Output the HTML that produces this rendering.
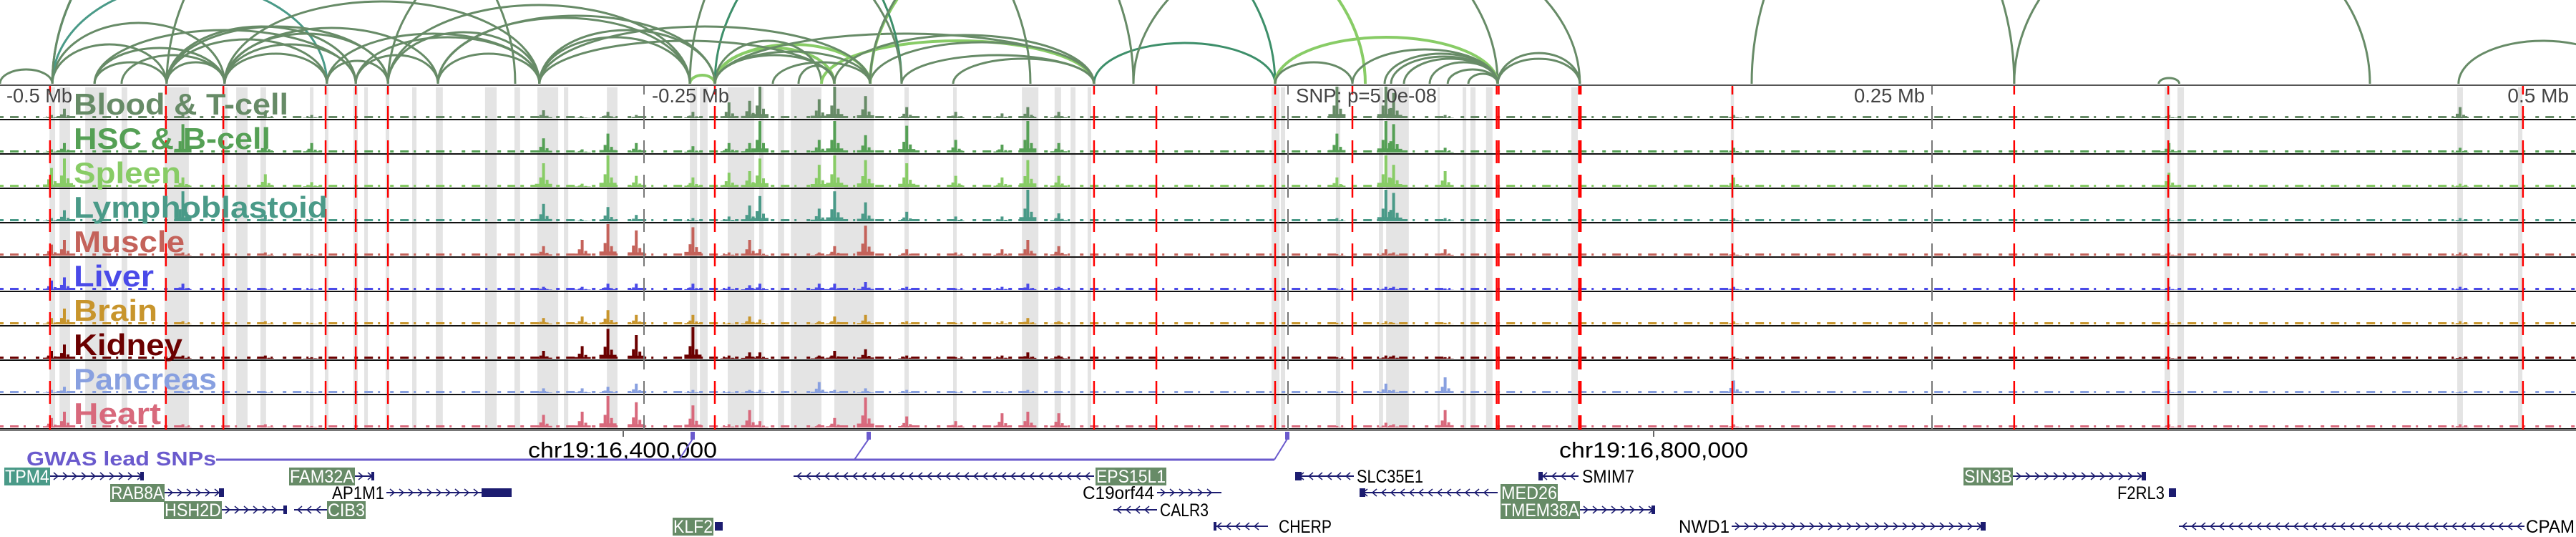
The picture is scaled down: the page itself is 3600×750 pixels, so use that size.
<!DOCTYPE html>
<html><head><meta charset="utf-8">
<style>
html,body{margin:0;padding:0;background:#fff;}
svg{display:block;font-family:"Liberation Sans","DejaVu Sans",sans-serif;}
</style></head>
<body>
<svg id="chart" width="3600" height="750" viewBox="0 0 3600 750" xmlns="http://www.w3.org/2000/svg">
  <g id="bands"></g>
  <g id="arcs"></g>
  <g id="tracks"></g>
  <g id="vlines"></g>
  <g id="labels"></g>
  <g id="axis"></g>
  <g id="gwas"></g>
  <g id="genes"></g>
</svg>
<script>
// ---- data (kb relative to lead SNP) ----
const tissues = ["Blood & T-cell","HSC & B-cell","Spleen","Lymphoblastoid","Muscle","Liver","Brain","Kidney","Pancreas","Heart"];
const tissueColors = ["#678b67","#55a055","#88cc66","#4a9a88","#c4625a","#4a4ae8","#c8952c","#6b0000","#88a0e0","#d8697c"];
const peakKb = [-480,-475,-429,-397,-379,-289,-274,-264,-253,-231,-217,-209,-205,-182,-176,-164,-148,-129,-111,-101,-89,19,38,41,61,173,342,455];
const peakBlood = [.1,.3,.1,.15,.1,.25,.05,.2,.1,.2,.5,.55,1,.6,1,.7,.35,.2,.15,.35,.2,1,1,.8,.1,.1,.1,.35];
const peakHsc = [.1,.3,.9,.35,.3,.45,.1,.6,.3,.2,.3,.3,1,.4,1,.55,.85,.4,.25,1,.3,.6,1,.9,.15,.15,.3,.15];
const peakSpleen = [.6,.9,.3,.4,.15,.75,.1,1,.35,.3,.45,.5,.9,.7,1,.85,.75,.35,.3,.85,.35,.3,1,.7,.5,.3,.45,.1];
const peakLympho = [.1,.35,.95,.2,.1,.55,.05,.45,.2,.1,.15,.5,.8,.4,.95,.6,.3,.15,.15,1,.25,.1,1,.9,.1,.1,.1,.1];
const peakMuscle = [.35,.5,.1,.1,.05,.3,.5,1,.8,.9,.1,.5,.2,.1,.3,.95,.2,.1,.2,.5,.3,.05,.2,.1,.2,.1,.1,.1];
const peakLiver = [.3,.4,.2,.05,.05,.1,.1,.2,.2,.2,.1,.15,.2,.2,.2,.25,.1,.05,.1,.2,.1,.05,.1,.1,.05,.1,.1,.1];
const peakBrain = [.2,.5,.1,.1,.05,.2,.25,.45,.3,.3,.05,.25,.15,.1,.25,.3,.1,.05,.1,.2,.1,.05,.1,.05,.05,.1,.1,.1];
const peakKidney = [.25,.45,.1,.1,.05,.25,.4,.95,.75,1,.1,.2,.2,.1,.25,.3,.1,.05,.1,.2,.1,.05,.1,.1,.05,.05,.05,.05];
const peakPancreas = [.1,.2,.05,.05,.05,.15,.15,.2,.3,.1,.05,.1,.1,.35,.1,.15,.1,.05,.05,.1,.05,.05,.3,.1,.5,.4,.1,.05];
const peakHeart = [.3,.5,.1,.1,.05,.4,.5,1,.8,.7,.1,.55,.2,.1,.3,.95,.35,.2,.45,.5,.45,.05,.15,.1,.55,.1,.1,.1];
const baselineKb = [[-500,-482],[-478,-420],[-418,-300],[-298,-180],[-178,-60],[-58,120],[122,260],[262,500]];
const bandKb = [[-480.8,-478.6],[-476.9,-472.8],[-466.9,-458.6],[-452.8,-450.6],[-436.1,-426.7],[-413.9,-411.7],[-408.3,-403.9],[-398.9,-396.7],[-379.7,-378.3],[-373.9,-372.5],[-362.8,-361.1],[-358.6,-357.2],[-350.3,-348.9],[-340,-338.3],[-330.8,-328.1],[-311.7,-307.2],[-300.3,-298.1],[-291.4,-283.3],[-281.1,-279.4],[-264.4,-260.3],[-232.2,-229.4],[-228.3,-225.3],[-217.5,-207.2],[-205.3,-203.6],[-198,-195.6],[-193,-181.1],[-176.1,-160.8],[-148.9,-147.2],[-130,-128.6],[-103.3,-96.9],[-90.6,-88.1],[-84.4,-82.5],[-77.8,-76.4],[-6.4,-3.3],[-2.8,-1.1],[18.6,20.3],[35.3,36.9],[38.1,46.9],[58.1,58.9],[67.8,69.2],[70.8,72.8],[76.9,79.4],[110,112.5],[171.9,173.1],[340.3,342.5],[345.3,347.8],[453.9,456.1],[477.5,479.2]];
const redKb = [-480.6,-435.6,-413.3,-373.6,-361.9,-349.4,-222.5,-75.3,-51.1,-5,25,81,81.8,172.5,281.9,341.7,479.4];
const redThickKb = [113.3];
const tickKb = [-250,0,250];
const tickLabels = ["-0.25 Mb","","0.25 Mb"];
// arcs: [startKb, endKb, height(score px), colorIndex]
const arcStart = [-500,-479.7,-479.7,-479.7,-463.3,-463.3,-452.8,-435.3,-435.3,-435.3,-412.8,-412.8,-412.8,-412.8,-373.1,-361.9,-349.4,-349.4,-330,-330,-290.6,-290.6,-232.2,-222.5,-222.5,-222.5,-222.5,-181.1,-176.1,-162.2,-162.2,-479.7,-435.3,-222.5,-162.2,-75.3,-5,-5,37.5,40,45,55,62,70,25,81.4,81.4,-60,180,281.9,338,454.4,-479.7,-349.4,-232.2,-463.3,-435.3,-412.8,-373.1,-361.9,-330,-290.6,-290.6,-222.5,-222.5,-200,-190,-150,-130];
const arcEnd = [-479.7,-435.3,-412.8,-373.1,-435.3,-412.8,-412.8,-412.8,-373.1,-361.9,-373.1,-361.9,-349.4,-290.6,-349.4,-330,-290.6,-232.2,-290.6,-232.2,-222.5,-232.2,-222.5,-176.1,-162.2,-75.3,-181.1,-75.3,-75.3,-75.3,30,-150,-100,-5,81.4,-5,81.4,25,81.4,81.4,81.4,81.4,81.4,81.4,81.4,113.3,113.3,113.3,281.9,420,346,520,-300,-150,-60,-361.9,-349.4,-330,-290.6,-290.6,-222.5,-176.1,-162.2,-162.2,-176.1,-162.2,-176.1,-75.3,-75.3];
const arcHeight = [20,55,85,140,30,50,40,30,62,80,42,55,70,115,32,40,72,110,42,92,75,65,12,50,55,70,60,60,68,58,260,400,420,300,300,57,65,30,42,38,35,30,20,14,48,43,35,220,280,230,8,60,300,260,330,75,80,78,70,65,95,60,80,45,40,30,25,40,35];
const arcColor = [0,0,0,1,0,0,0,0,0,0,0,0,0,0,0,0,0,0,0,0,0,0,2,2,2,0,0,2,0,0,2,3,0,3,0,3,2,0,0,0,0,0,0,0,0,0,0,0,0,0,0,0,0,0,0,0,0,0,0,0,0,0,0,0,0,0,0,0,0];
const arcPalette = ["#678b67","#4a9a88","#88cc66","#3d8f6a"];

const W = 3600;
const x = kb => 1800 + kb * 3.6;
const trackTop = i => 120 + 48 * i;
const TH = 47;
const svgNS = "http://www.w3.org/2000/svg";
function mk(tag, attrs, parent) {
  const e = document.createElementNS(svgNS, tag);
  for (const k in attrs) e.setAttribute(k, attrs[k]);
  parent.appendChild(e);
  return e;
}
const G = id => document.getElementById(id);

for (const b of bandKb) {
  const r = mk("rect", {x: x(b[0]), y: 122, width: Math.max(2, x(b[1]) - x(b[0])), height: 478, fill: "#e4e4e4"}, G("bands"));
  
  
}

const baseY = 117;
for (let i = 0; i < arcStart.length; i++) {
  const x1 = x(arcStart[i]), x2 = x(arcEnd[i]);
  const rx = Math.abs(x2 - x1) / 2, h = arcHeight[i];
  const p = mk("path", {d: `M${x1},${baseY} A${rx},${h} 0 0 1 ${x2},${baseY}`, fill: "none", stroke: arcPalette[arcColor[i]], "stroke-width": arcColor[i] === 2 ? 4 : 3}, G("arcs"));
  
  
}
mk("rect", {x: 0, y: 118, width: W, height: 2, fill: "#555"}, G("arcs"));

const peakSets = [peakBlood, peakHsc, peakSpleen, peakLympho, peakMuscle, peakLiver, peakBrain, peakKidney, peakPancreas, peakHeart];
for (let t = 0; t < tissues.length; t++) {
  const g = mk("g", {}, G("tracks"));
  
  
  const bot = trackTop(t) + TH - 2;
  const col = tissueColors[t];
  for (const s of baselineKb) {
    mk("line", {x1: x(s[0]), y1: bot - 1.5, x2: x(s[1]), y2: bot - 1.5, stroke: col, "stroke-width": 3, "stroke-dasharray": "5 9 12 7 3 14"}, g);
  }
  const vals = peakSets[t];
  for (let i = 0; i < peakKb.length; i++) {
    const h = vals[i] * 44;
    const cx = x(peakKb[i]);
    const bar = mk("rect", {x: cx - 2, y: bot - h, width: 4, height: h, fill: col}, g);
    
    
    mk("rect", {x: cx - 6, y: bot - h * 0.4, width: 4, height: h * 0.4, fill: col}, g);
    mk("rect", {x: cx + 3, y: bot - h * 0.3, width: 4, height: h * 0.3, fill: col}, g);
    mk("rect", {x: cx - 12, y: bot - h * 0.13, width: 24, height: h * 0.13, fill: col}, g);
  }
  mk("rect", {x: 0, y: trackTop(t) + TH - 1, width: W, height: 2, fill: "#111"}, g);
}
mk("rect", {x: 0, y: 599, width: W, height: 3, fill: "#777"}, G("tracks"));

for (const k of redKb) {
  const l = mk("line", {x1: x(k), y1: 120, x2: x(k), y2: 600, stroke: "#ff0000", "stroke-width": 2.5, "stroke-dasharray": "32 16", "stroke-dashoffset": 20}, G("vlines"));
  
  
}
for (const k of redThickKb) {
  const l = mk("line", {x1: x(k), y1: 120, x2: x(k), y2: 600, stroke: "#ff0000", "stroke-width": 5, "stroke-dasharray": "32 16", "stroke-dashoffset": 20}, G("vlines"));
  
  
}
function txt(parent, s, attrs, name) {
  const t = mk("text", attrs, parent);
  t.textContent = s;
  
  
  return t;
}
for (let i = 0; i < tickKb.length; i++) {
  const l = mk("line", {x1: x(tickKb[i]), y1: 120, x2: x(tickKb[i]), y2: 600, stroke: "#777", "stroke-width": 2, "stroke-dasharray": "32 16", "stroke-dashoffset": 20}, G("vlines"));
  
  
  if (tickLabels[i]) {
    const left = tickKb[i] < 0;
    txt(G("axis"), tickLabels[i], {x: left ? x(tickKb[i]) + 11 : x(tickKb[i]) - 10, y: 143, "font-size": 28, fill: "#444", "text-anchor": left ? "start" : "end", textLength: left ? 108 : 99, lengthAdjust: "spacingAndGlyphs"}, 'tick-label');
  }
}
txt(G("axis"), "-0.5 Mb", {x: 9, y: 143, "font-size": 28, fill: "#444", textLength: 92, lengthAdjust: "spacingAndGlyphs"}, 'tick-label');
txt(G("axis"), "0.5 Mb", {x: 3590, y: 143, "font-size": 28, fill: "#444", "text-anchor": "end"}, 'tick-label');
txt(G("axis"), "SNP: p=5.0e-08", {x: 1811, y: 143, "font-size": 28, fill: "#444", textLength: 197, lengthAdjust: "spacingAndGlyphs"}, 'snp-label');

const labelW = [300, 275, 150, 355, 155, 112, 117, 152, 200, 122];
for (let t = 0; t < tissues.length; t++) {
  txt(G("labels"), tissues[t], {x: 103, y: trackTop(t) + 40, "font-size": 42, "font-weight": "bold", fill: tissueColors[t], textLength: labelW[t], lengthAdjust: "spacingAndGlyphs"}, 'track-label');
}

const ga = G("axis");
mk("line", {x1: 871, y1: 602, x2: 871, y2: 610, stroke: "#333", "stroke-width": 1.5}, ga);
mk("line", {x1: 2311, y1: 602, x2: 2311, y2: 610, stroke: "#333", "stroke-width": 1.5}, ga);
txt(ga, "chr19:16,400,000", {x: 738, y: 639, "font-size": 31, fill: "#000", textLength: 264, lengthAdjust: "spacingAndGlyphs"}, 'coordinate-label');
txt(ga, "chr19:16,800,000", {x: 2179, y: 639, "font-size": 31, fill: "#000", textLength: 264, lengthAdjust: "spacingAndGlyphs"}, 'coordinate-label');

const gw = G("gwas");
txt(gw, "GWAS lead SNPs", {x: 37, y: 650, "font-size": 28, "font-weight": "bold", fill: "#6a5acd", textLength: 265, lengthAdjust: "spacingAndGlyphs"}, 'gwas-label');
mk("line", {x1: 302, y1: 642, x2: 1781, y2: 642, stroke: "#6a5acd", "stroke-width": 3}, gw);
for (const m of [[949, 968], [1194, 1214], [1781, 1799]]) {
  mk("line", {x1: m[0], y1: 642, x2: m[1], y2: 613, stroke: "#6a5acd", "stroke-width": 2}, gw);
  const r = mk("rect", {x: m[1] - 3, y: 603, width: 6, height: 11, fill: "#6a5acd"}, gw);
  
  
}

const genes = [
  ["TPM4",0,70,200,1,6,70,2,[[196,201]]],
  ["FAM32A",0,496,522,1,404,496,1,[[519,523]]],
  ["EPS15L1",0,1109,1529,-1,1531,1630,1,[]],
  ["SLC35E1",0,1811,1892,-1,1895,1990,0,[[1810,1819]]],
  ["SMIM7",0,2151,2206,-1,2210,2285,0,[[2150,2156]]],
  ["SIN3B",0,2813,2998,1,2744,2813,1,[[2993,2999]]],
  ["RAB8A",1,230,313,1,154,230,1,[[306,313]]],
  ["AP1M1",1,540,715,1,463,538,0,[[673,715]]],
  ["C19orf44",1,1617,1707,1,1512,1614,0,[]],
  ["MED26",1,1900,2093,-1,2097,2177,1,[[1900,1908]]],
  ["F2RL3",1,3031,3041,1,2958,3026,0,[[3031,3041]]],
  ["HSH2D",2,310,400,1,229,310,1,[[396,401]]],
  ["CIB3",2,411,457,-1,457,511,1,[]],
  ["CALR3",2,1556,1617,-1,1620,1690,0,[]],
  ["TMEM38A",2,2208,2313,1,2097,2208,1,[[2308,2313]]],
  ["KLF2",3,999,1010,1,940,997,1,[[999,1010]]],
  ["CHERP",3,1696,1772,-1,1786,1862,0,[[1696,1700]]],
  ["NWD1",3,2420,2775,1,2345,2418,0,[[2768,2775]]],
  ["CPAMD8",3,3045,3528,-1,3529,3630,0,[]]
];
const rowY = [665, 688, 712, 735];
const ge = G("genes");
for (const gd of genes) {
  const [name, row, l1, l2, strand, tx1, tx2, boxed, blocks] = gd;
  const y = rowY[row];
  const g = mk("g", {}, ge);
  
  
  mk("line", {x1: l1, y1: y, x2: l2, y2: y, stroke: "#1c1c70", "stroke-width": 2}, g);
  for (let ax = l1 + 8; ax < l2 - 4; ax += 13) {
    const d = strand > 0 ? `M${ax - 3},${y - 5} L${ax + 3},${y} L${ax - 3},${y + 5}` : `M${ax + 3},${y - 5} L${ax - 3},${y} L${ax + 3},${y + 5}`;
    mk("path", {d, fill: "none", stroke: "#1c1c70", "stroke-width": 1.5}, g);
  }
  for (const b of blocks) mk("rect", {x: b[0], y: y - 6, width: b[1] - b[0], height: 12, fill: "#1c1c70"}, g);
  if (boxed) mk("rect", {x: tx1, y: y - 12, width: tx2 - tx1, height: 25, fill: boxed === 2 ? "#4a9a88" : "#678b67"}, g);
  txt(g, name, {x: tx1 + 1, y: y + 9, "font-size": 25, fill: boxed ? "#fff" : "#000", textLength: tx2 - tx1 - 2, lengthAdjust: "spacingAndGlyphs"}, 'gene-label');
}
</script>
</body></html>
